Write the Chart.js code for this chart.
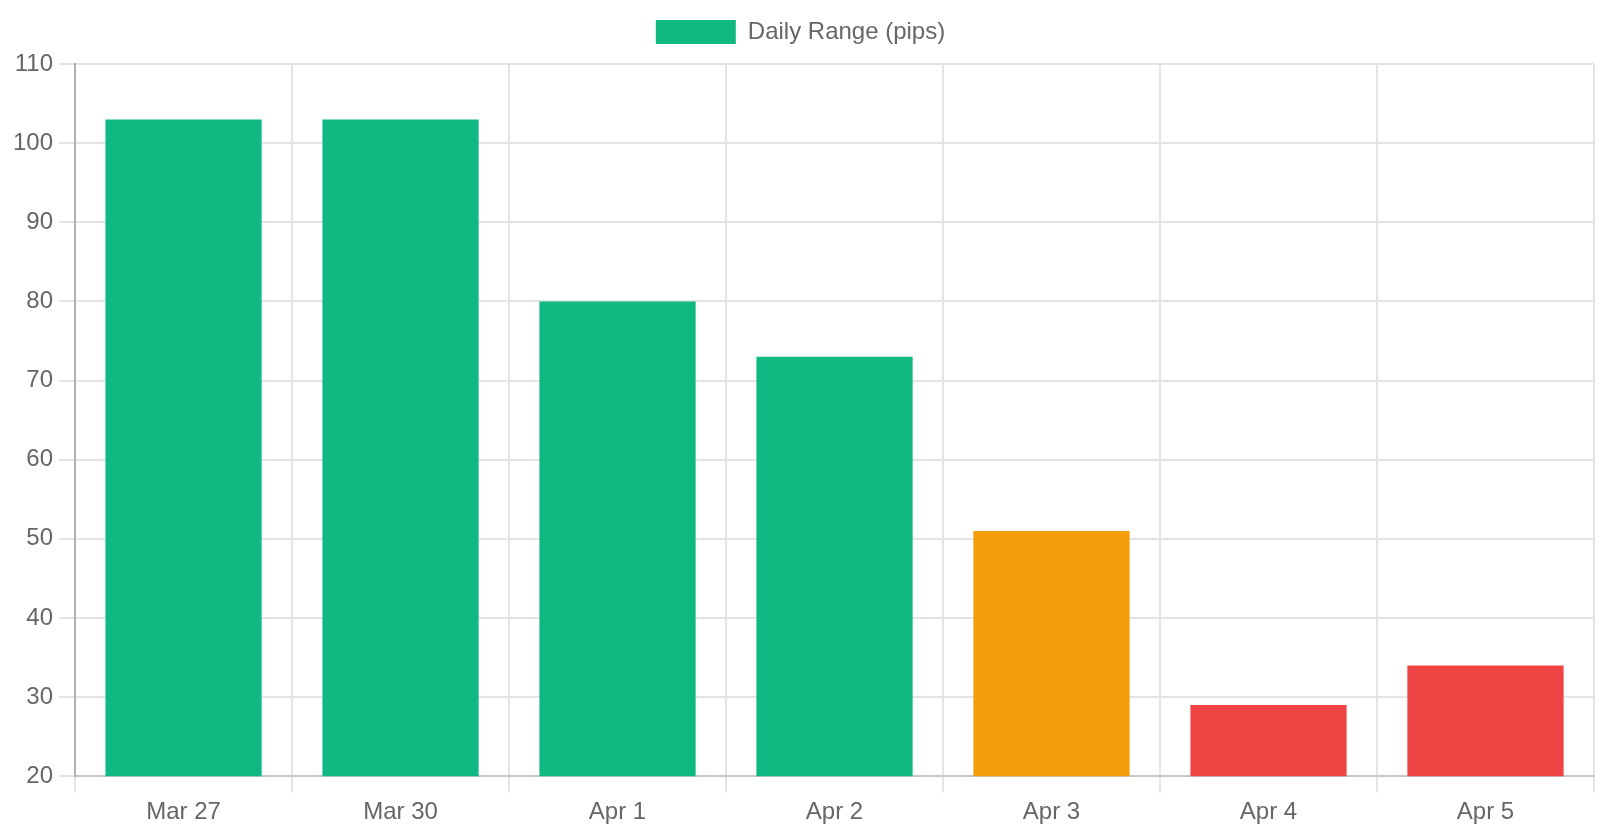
<!DOCTYPE html>
<html>
<head>
<meta charset="utf-8">
<script src="https://cdn.jsdelivr.net/npm/chart.js@4"></script>
<style>
  html, body { margin: 0; padding: 0; background: #fff; width: 1600px; height: 836px; }
  #wrap { width: 800px; height: 418px; transform: scale(2); transform-origin: 0 0; }
</style>
</head>
<body>
<div id="wrap"><canvas id="rangeChart" width="800" height="418"></canvas></div>
<script>
var days = ["Mar 27", "Mar 30", "Apr 1", "Apr 2", "Apr 3", "Apr 4", "Apr 5"];
var ranges = [103, 103, 80, 73, 51, 29, 34];
var barColors = ["#10b981", "#10b981", "#10b981", "#10b981", "#f59e0b", "#ef4444", "#ef4444"];

Chart.defaults.font.family = "'Liberation Sans', Arial, sans-serif";
Chart.defaults.color = "#666";

new Chart("rangeChart", {
  type: "bar",
  data: {
    labels: days,
    datasets: [{
      label: "Daily Range (pips)",
      data: ranges,
      backgroundColor: barColors
    }]
  },
  options: {
    responsive: false,
    animation: false,
    devicePixelRatio: 2,
    layout: { padding: { left: 3.5, right: 3, top: 0, bottom: 1.5 } },
    plugins: {
      tooltip: { enabled: false }
    },
    scales: {
      x: {
        grid: { color: "#e4e4e4" },
        border: { color: "#c8c8c8" }
      },
      y: {
        min: 20,
        max: 110,
        grid: { color: "#e4e4e4" },
        border: { color: "#b0b0b0" },
        ticks: { stepSize: 10 }
      }
    }
  }
});
</script>
</body>
</html>
